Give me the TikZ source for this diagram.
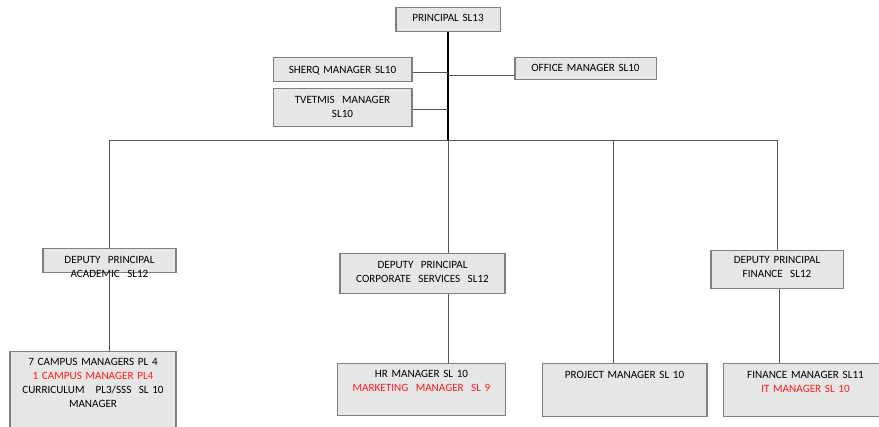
\documentclass[tikz,border=0pt]{standalone}
\usepackage{fontspec}
\setmainfont{Carlito}
\definecolor{boxfill}{HTML}{E6E6E6}
\definecolor{boxline}{HTML}{7F7F7F}
\definecolor{linegray}{HTML}{555555}
\definecolor{redtxt}{HTML}{FF1A1A}
\tikzset{bx/.style = {rectangle, draw=boxline, fill=boxfill, line width=0.9pt, inner sep=0pt,
                      anchor=north, align=center, font=\fontsize{9.5}{12}\selectfont},
         ln/.style = {draw=linegray, line width=0.8pt}}

\begin{document}
\begin{tikzpicture}[x=0.03cm, y=-0.03cm]
    \useasboundingbox (0,0) rectangle (879,427);
    \node[bx, text width=88.8pt, text height=12pt, text depth=8.5pt] (princ) at (448,7) {PRINCIPAL SL13};
    \node[bx, text width=118.6pt, text height=13.7pt, text depth=6.8pt] (sherq) at (342.5,57) {SHERQ MANAGER SL10};
    \node[bx, text width=118.6pt, text height=12.8pt, text depth=19.6pt] (tvet) at (342.5,88) {TVETMIS\ \ MANAGER\\SL10};
    \node[bx, text width=120.4pt, text height=12pt, text depth=6.8pt] (office) at (585.5,57) {OFFICE MANAGER SL10};
    \node[bx, text width=113.5pt, text height=12.8pt, text depth=7.7pt] (dpa) at (109.5,248) {DEPUTY\ \ PRINCIPAL\\ACADEMIC\ \ SL12};
    \node[bx, text width=140.8pt, text height=12.8pt, text depth=21.3pt] (dpc) at (422.5,253) {DEPUTY\ \ PRINCIPAL\\CORPORATE\ \ SERVICES\ \ SL12};
    \node[bx, text width=112.7pt, text height=11.1pt, text depth=21.3pt] (dpf) at (777,250) {DEPUTY PRINCIPAL\\FINANCE\ \ SL12};
    \node[bx, text width=141.7pt, text height=12pt, text depth=57.2pt] (campus) at (93,351) {7 CAMPUS MANAGERS PL 4\\\textcolor{redtxt}{1 CAMPUS MANAGER PL4}\\CURRICULUM\ \ \ PL3/SSS\ \ SL 10\\MANAGER};
    \node[bx, text width=142.6pt, text height=12pt, text depth=32.4pt] (hr) at (421.5,363) {HR MANAGER SL 10\\\textcolor{redtxt}{MARKETING\ \ MANAGER\ \ SL 9}};
    \node[bx, text width=140.8pt, text height=12.8pt, text depth=32.4pt] (proj) at (624.5,363) {PROJECT MANAGER SL 10};
    \node[bx, text width=140.8pt, text height=12.8pt, text depth=32.4pt] (fin) at (805.5,363) {FINANCE MANAGER SL11\\\textcolor{redtxt}{IT MANAGER SL 10}};
    \coordinate (bus) at (448,140);
    \draw[line width=1.8pt] (princ) -- (bus);
    \draw[ln] ([yshift=-2.5pt]sherq.east) -- ([yshift=-2.5pt]sherq.east -| bus);
    \draw[ln] ([yshift=-1.5pt]tvet.east) -- ([yshift=-1.5pt]tvet.east -| bus);
    \draw[ln] ([yshift=-6pt]office.west) -- ([yshift=-6pt]office.west -| bus);
    \draw[ln] (bus) -| (dpa);
    \draw[ln] (bus) -| (dpf);
    \draw[ln] (bus) -| ([xshift=-9pt]proj.north);
    \draw[ln] (bus) -- (dpc.north -| bus);
    \draw[ln] (dpa.south) -- (dpa.south |- campus.north);
    \draw[ln] (dpc.south -| bus) -- (hr.north -| bus);
    \draw[ln] ([xshift=2.5pt]dpf.south) -- ([xshift=2.5pt]dpf.south |- fin.north);
\end{tikzpicture}
\end{document}
